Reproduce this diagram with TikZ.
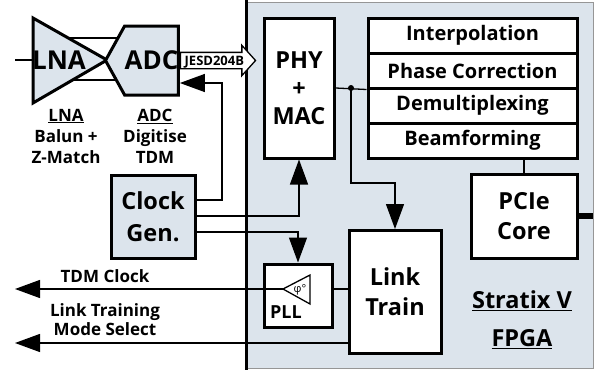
\documentclass[tikz,border=0pt]{standalone}
\usepackage{fontspec}
\setmainfont{Open Sans}
\usepackage{tikz}
\usetikzlibrary{shapes,arrows,positioning,calc,arrows.meta,shapes.arrows,shapes.symbols}
\definecolor{fpgablue}{RGB}{220,228,236}
\definecolor{edgegray}{RGB}{150,150,150}
\pgfdeclarelayer{back}
\pgfdeclarelayer{wires}
\pgfsetlayers{back,wires,main}

\tikzset{
  wire/.style={line width=1.3pt},
  tip/.style={-{Triangle[length=25pt,width=18pt]}},
  blk/.style={draw, line width=3pt, fill=white, inner sep=0pt},
  bluebox/.style={blk, fill=fpgablue},
  bigtxt/.style={font=\fontsize{23.5}{30}\selectfont\bfseries, align=center},
  hugetxt/.style={font=\fontsize{26}{30}\selectfont\bfseries},
  midtxt/.style={font=\fontsize{20}{22}\selectfont\bfseries, align=center},
  smltxt/.style={font=\fontsize{17}{21}\selectfont\bfseries, align=center},
}

\begin{document}
\begin{tikzpicture}[x=1pt,y=-1pt]
    \useasboundingbox (0,0) rectangle (600,372);
    % FPGA area
    \begin{pgfonlayer}{back}
        \fill[fpgablue] (246,2) rectangle (593,368);
        \draw[edgegray, line width=1pt] (246,2) -- (593,2) -- (593,368) -- (246,368);
        \draw[line width=3pt] (246,0) -- (246,370);
    \end{pgfonlayer}

    % front end
    \coordinate (rfin) at (15,60);
    \coordinate (lnaback) at (33,60);
    \draw[bluebox] (33,18) -- (107,60) -- (33,103) -- cycle;
    \node[hugetxt] (lna) at (59,60) {LNA};
    \node[bluebox, signal, signal to=west, signal from=nowhere, signal pointer angle=122,
          minimum width=67pt, minimum height=69pt, hugetxt] (adc) at (151.5,60.5) {ADC};
    \node[smltxt] (lnalbl) at (66,136) {\underline{LNA}\\Balun +\\Z-Match};
    \node[smltxt] (adclbl) at (155,136) {\underline{ADC}\\Digitise\\TDM};
    \node[bluebox, minimum width=84pt, minimum height=83pt, bigtxt, font=\fontsize{23.5}{32}\selectfont\bfseries] (clkgen) at (153,216.5) {Clock\\Gen.};

    % FPGA blocks
    \node[blk, minimum width=70pt, minimum height=140pt, bigtxt, font=\fontsize{23.5}{28}\selectfont\bfseries] (phymac) at (299,88) {PHY\\+\\MAC};
    \node[blk, minimum width=209pt, minimum height=35pt, midtxt] (interp) at (472.5,35.5) {Interpolation};
    \node[blk, minimum width=209pt, minimum height=35pt, midtxt] (phase) at (472.5,70.5) {Phase Correction};
    \node[blk, minimum width=209pt, minimum height=35pt, midtxt] (demux) at (472.5,105.5) {Demultiplexing};
    \node[blk, minimum width=209pt, minimum height=35pt, midtxt] (beam) at (472.5,140.5) {Beamforming};
    \node[blk, minimum width=106pt, minimum height=84pt, bigtxt] (pcie) at (524,216) {PCIe\\Core};
    \node[blk, minimum width=68pt, minimum height=63pt] (pll) at (298,295.5) {};
    \node[blk, minimum width=92pt, minimum height=123pt, bigtxt] (linktrain) at (395,292) {Link\\Train};
    \draw[wire, fill=white] (283,289) coordinate (plltip) -- (310,275) -- (310,304) -- cycle;
    \node[font=\fontsize{11}{11}\selectfont] (phi) at (300,290) {φ°};
    \node[smltxt, font=\fontsize{18}{20}\selectfont\bfseries] (plllbl) at (286,312) {PLL};
    \node[bigtxt, font=\fontsize{23.5}{38}\selectfont\bfseries] (fpgalbl) at (522,320) {\underline{Stratix V}\\\underline{FPGA}};

    \node[single arrow, draw, wire, fill=white, single arrow head extend=7pt, single arrow tip angle=96,
          minimum height=75pt, inner xsep=1pt, inner ysep=3pt, text height=9pt, text depth=0pt,
          anchor=tail, font=\fontsize{13}{13}\selectfont\bfseries] (jesd) at (adc.east) {JESD204B};

    % connectors
    \begin{pgfonlayer}{wires}
        \draw[wire] (lna.center |- 0,38) -- (adc.center |- 0,38);
        \draw[wire] (lna.center |- 0,80) -- (adc.center |- 0,80);
    \end{pgfonlayer}
    \draw[wire] (rfin) -- (lnaback);
    \draw[wire, tip] (clkgen.east |- 0,200) -| (222,83) -- (adc.east |- 0,83);
    \draw[wire, tip] (clkgen.east |- 0,216) -| (phymac.south);
    \draw[wire, tip] (clkgen.east |- 0,232) -| (pll.north);
    \coordinate (junc) at (351,88);
    \draw[wire] (phymac.east |- junc) -- (phase.south west);
    \fill (junc) circle[radius=3pt];
    \draw[wire, tip] (junc) |- (linktrain.north |- 0,183) -- (linktrain.north);
    \draw[wire] (beam.south -| pcie.north) -- (pcie.north);
    \draw[line width=6pt] (pcie.east) -- (pcie.east -| 593,0);
    \draw[wire] (pll.east |- plltip) -- (linktrain.west |- plltip);
    \coordinate (tdmout) at (15,289);
    \coordinate (modeout) at (15,343);
    \draw[wire, tip] (plltip) -- (tdmout);
    \draw[wire, tip] (linktrain.west |- modeout) -- (modeout);
    \node[smltxt] (tdmlbl) at (105,276) {TDM Clock};
    \node[smltxt, font=\fontsize{17}{19}\selectfont\bfseries] (modelbl) at (105,320) {Link Training\\Mode Select};
\end{tikzpicture}
\end{document}
